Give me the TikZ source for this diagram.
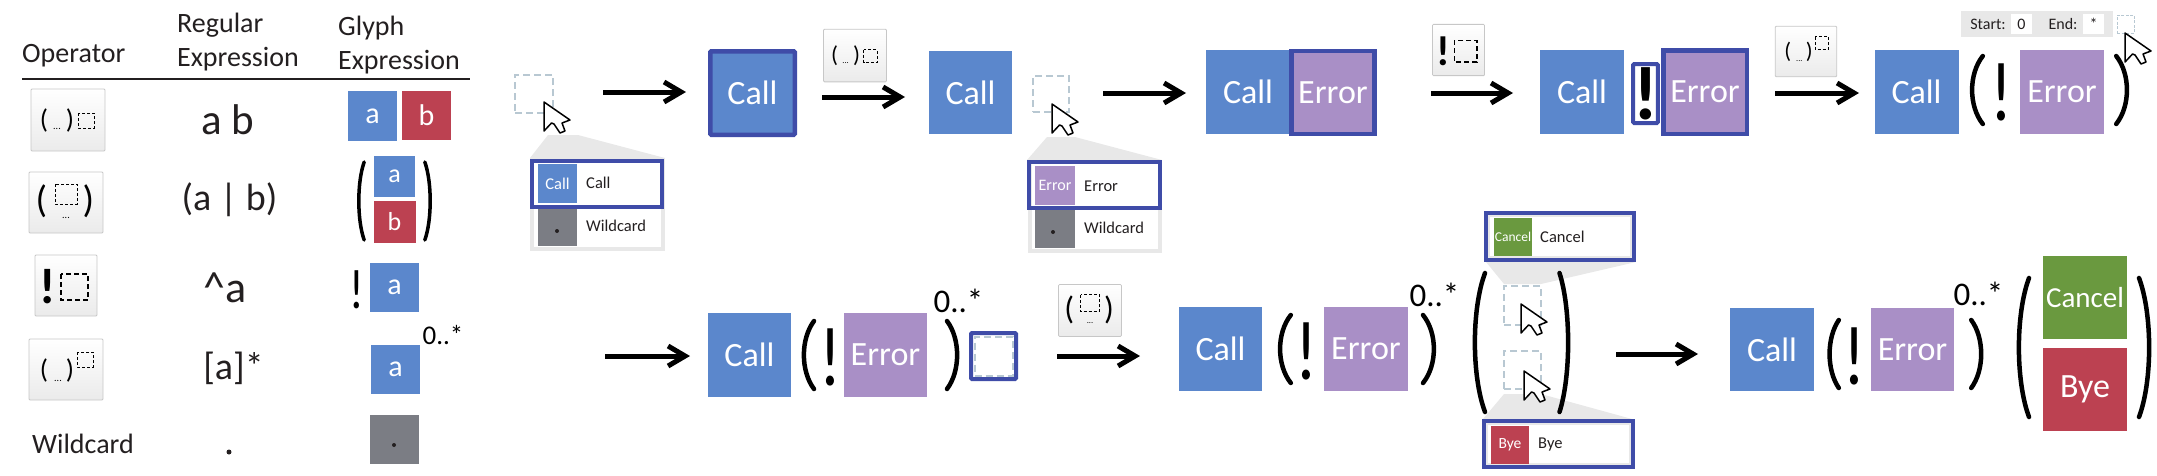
\documentclass[tikz,border=0pt]{standalone}
\usepackage{fontspec}
\setmainfont{Carlito}
\definecolor{Bluefill}{RGB}{91,135,204}
\definecolor{Redfill}{RGB}{188,65,81}
\definecolor{Purplefill}{RGB}{169,143,198}
\definecolor{Grayfill}{RGB}{123,125,132}
\definecolor{Greenfill}{RGB}{106,153,63}
\definecolor{Selblue}{RGB}{63,76,168}
\definecolor{Panelgray}{RGB}{232,232,232}
\definecolor{Dashgray}{RGB}{184,200,210}
\definecolor{Inkdark}{RGB}{35,31,32}
\tikzset{
  fs/.style={font=\fontsize{#1}{#1}\selectfont},
  tabtext/.style={text=Inkdark,inner sep=0pt,font=\fontsize{28}{34}\selectfont},
  glyph/.style={rectangle,inner sep=0pt,text=white},
  glyphbig/.style={glyph,minimum width=84,minimum height=84,fs=34},
  menuframe/.style={rectangle,draw=Panelgray,line width=4,fill=white,inner sep=0pt},
  selbox/.style={rectangle,draw=Selblue,line width=4,inner sep=0pt,rounded corners=1},
  dashbox/.style={rectangle,draw=Dashgray,line width=1.6,dash pattern=on 7 off 4,inner sep=0pt},
  menutext/.style={text=Inkdark,inner sep=0pt,anchor=west,fs=16.5},
  funnel/.style={fill=Panelgray},
  bang/.style={inner sep=0pt,text=black,xscale=.8,transform shape},
  bracket/.style={line width=4.5,line cap=round},
  flowarrow/.style={line width=5,-{Straight Barb[length=17,width=20,line width=5]}},
  btnbox/.style={rectangle,draw=black!22,line width=.8,rounded corners=1,top color=white,bottom color=black!8,inner sep=0pt},
  icondash/.style={draw=black,line width=1,dash pattern=on 3 off 2},
  seqbtn/.pic={
    \node[btnbox,minimum width=74,minimum height=62] (box) at (0,0) {};
    \node[inner sep=0pt,fs=27,transform shape] (lp) at (-24,0) {(};
    \node[inner sep=0pt,fs=27,transform shape] (rp) at (2,0) {)};
    \node[inner sep=0pt,fs=10,transform shape] (dots) at (-11,9) {...};
    \draw[icondash] (10,-7) rectangle (26,8);
  },
  altbtn/.pic={
    \node[btnbox,minimum width=74,minimum height=61] (box) at (0,0) {};
    \node[inner sep=0pt,fs=38,transform shape] (lp) at (-24.5,-1) {(};
    \node[inner sep=0pt,fs=38,transform shape] (rp) at (22.5,-1) {)};
    \node[inner sep=0pt,fs=10,transform shape] (dots) at (0,15) {...};
    \draw[icondash] (-11,-18.5) rectangle (11,1.5);
  },
  notbtn/.pic={
    \node[btnbox,minimum width=62,minimum height=61] (box) at (0,0) {};
    \node[inner sep=0pt,fs=50,transform shape,font=\fontsize{50}{50}\selectfont\bfseries] (ex) at (-18,1) {!};
    \draw[icondash,line width=1.4,dash pattern=on 5 off 3] (-5,-11.5) rectangle (22,14.5);
  },
  repbtn/.pic={
    \node[btnbox,minimum width=74,minimum height=61] (box) at (0,0) {};
    \node[inner sep=0pt,fs=27,transform shape] (lp) at (-22,1) {(};
    \node[inner sep=0pt,fs=27,transform shape] (rp) at (4,1) {)};
    \node[inner sep=0pt,fs=10,transform shape] (dots) at (-8,11) {...};
    \draw[icondash] (11,-17.5) rectangle (27,-2.5);
  },
  cursorpic/.pic={
    \draw[fill=white,line width=1.5,line join=round] (0,0) -- (26,18) -- (18,21) -- (21,29) -- (16,31) -- (10,22) -- (7.5,21) -- (0,29) -- cycle;
  },
}
\usetikzlibrary{arrows.meta}

\begin{document}
\begin{tikzpicture}[x=1pt,y=-1pt,line cap=butt]
\path[use as bounding box] (0,0) rectangle (2157,475);
% table
\node[tabtext,anchor=base west] (hop) at (22,62) {Operator};
\node[tabtext,anchor=base west,align=left] (hre) at (177,66) {Regular\\Expression};
\node[tabtext,anchor=base west,align=left] (hge) at (338,69) {Glyph\\Expression};
\coordinate (rulea) at (22,79);
\coordinate (ruleb) at (470,79);
\draw[line width=1.8,draw=Inkdark] (rulea) -- (ruleb);
\pic (opseq) at (68,120) {seqbtn};
\pic (opalt) at (66,202.5) {altbtn};
\pic (opnot) at (66,285.5) {notbtn};
\pic (oprep) at (66,369.5) {repbtn};
\node[tabtext,anchor=base west] (opwild) at (32,453) {Wildcard};
\node[inner sep=0pt,text=Inkdark,fs=43] (reseq) at (227.5,120) {a b};
\node[inner sep=0pt,text=Inkdark,fs=38] (realt) at (229.5,200) {(a | b)};
\node[inner sep=0pt,text=Inkdark,fs=44] (renot) at (225,288) {\char94 a};
\node[inner sep=0pt,text=Inkdark,fs=38] (rerep) at (233.5,368) {[a]*};
\node[circle,fill=Inkdark,inner sep=0pt,minimum size=5] (rewild) at (229,452) {};
\node[glyph,fill=Bluefill,minimum width=49,minimum height=50,fs=30] (ga) at (372.5,116) {a};
\node[glyph,fill=Redfill,minimum size=49,fs=30] (gb) at (426.5,115.5) {b};
\node[glyph,fill=Bluefill,minimum size=41,fs=26] (gaa) at (394.5,176.5) {a};
\node[glyph,fill=Redfill,minimum size=42,fs=26] (gbb) at (394.5,222) {b};
\draw[bracket,line width=3.5] (364.2,162) .. controls (357,182) and (357,220) .. (364.2,240);
\draw[bracket,line width=3.5] (424.8,162) .. controls (432,182) and (432,220) .. (424.8,240);
\node[bang,fs=56] (gex) at (357,290) {!};
\node[glyph,fill=Bluefill,minimum size=49,fs=30] (gan) at (394.5,287.5) {a};
\node[glyph,fill=Bluefill,minimum size=49,fs=30] (gar) at (395.5,369.5) {a};
\node[inner sep=0pt,fs=27] (grep) at (443,335) {0..*};
\node[glyph,fill=Grayfill,minimum size=49] (gw) at (394.5,439.5) {};
\node[circle,fill=Inkdark,inner sep=0pt,minimum size=4] (gwd) at (394,445) {};
% first row
\fill[funnel] (548,135) -- (578,135) -- (665,158) -- (530,158) -- cycle;
\node[dashbox,minimum width=38,minimum height=38] (slota) at (534,94) {};
\pic at (544,102) {cursorpic};
\node[menuframe,minimum width=131,minimum height=89] (menua) at (597.5,204.5) {};
\node[selbox,rounded corners=0,minimum width=130,minimum height=46] (sela) at (597,184) {};
\node[glyph,fill=Bluefill,minimum width=39,minimum height=39,fs=16.5] (swa) at (557.5,183.5) {Call};
\node[menutext] (lba) at (586,183) {Call};
\node[glyph,fill=Grayfill,minimum width=39,minimum height=37] (swb) at (557.5,227.5) {};
\node[circle,fill=Inkdark,inner sep=0pt,minimum size=4] (dta) at (557,231) {};
\node[menutext] (lbb) at (586,226) {Wildcard};
\coordinate (arra) at (603,92);
\coordinate (arrb) at (686,92);
\draw[flowarrow] (arra) -- (arrb);
\node[glyphbig,fill=Bluefill,draw=Selblue,line width=4.5,rounded corners=1,minimum width=84.5,minimum height=83.5] (calla) at (752.5,93) {Call};
\pic[scale=.85,transform shape] at (855,55.5) {seqbtn};
\coordinate (arrc) at (822,97);
\coordinate (arrd) at (905,97);
\draw[flowarrow] (arrc) -- (arrd);
\node[glyphbig,fill=Bluefill,minimum width=83,minimum height=83] (callb) at (970.5,92.5) {Call};
\fill[funnel] (1047,137) -- (1075,137) -- (1162,160) -- (1027,160) -- cycle;
\node[dashbox,minimum width=36,minimum height=36] (slotb) at (1051,94) {};
\pic at (1052,104) {cursorpic};
\node[menuframe,minimum width=130,minimum height=89] (menub) at (1094.5,206.5) {};
\node[selbox,rounded corners=0,minimum width=131,minimum height=46] (selb) at (1094.5,185) {};
\node[glyph,fill=Purplefill,minimum width=40,minimum height=39,fs=16] (swc) at (1055,185.5) {Error};
\node[menutext] (lbc) at (1084,186) {Error};
\node[glyph,fill=Grayfill,minimum width=40,minimum height=38] (swd) at (1055,229) {};
\node[circle,fill=Inkdark,inner sep=0pt,minimum size=4] (dtb) at (1053,232) {};
\node[menutext] (lbd) at (1084,228) {Wildcard};
\coordinate (arre) at (1103,93);
\coordinate (arrf) at (1186,93);
\draw[flowarrow] (arre) -- (arrf);
\node[glyphbig,fill=Bluefill] (callc) at (1248,92) {Call};
\node[glyphbig,fill=Purplefill,draw=Selblue,line width=4.5,minimum width=83,minimum height=83] (erra) at (1333,92.5) {Error};
\pic[scale=.84,transform shape] at (1458.5,50) {notbtn};
\coordinate (arrg) at (1431,93);
\coordinate (arrh) at (1513,93);
\draw[flowarrow] (arrg) -- (arrh);
\node[glyphbig,fill=Bluefill] (calld) at (1582,92) {Call};
\node[selbox,fill=white,minimum width=19,minimum height=59,font=\fontsize{76}{76}\selectfont\bfseries] (exa) at (1645.5,93.5) {!};
\node[glyphbig,fill=Purplefill,draw=Selblue,line width=4.5,minimum width=83.5,minimum height=83.5] (errb) at (1705,92) {Error};
\pic[scale=.83,transform shape] at (1806,51.5) {repbtn};
\coordinate (arri) at (1775,93);
\coordinate (arrj) at (1859,93);
\draw[flowarrow] (arri) -- (arrj);
\node[glyphbig,fill=Bluefill] (calle) at (1916.5,92) {Call};
\draw[bracket] (1982.8,56) .. controls (1968.5,74) and (1968.5,106) .. (1982.8,124);
\node[bang,fs=84] (exb) at (2001,92) {!};
\node[glyphbig,fill=Purplefill] (errc) at (2062,92) {Error};
\draw[bracket] (2116.2,56) .. controls (2130.5,74) and (2130.5,106) .. (2116.2,124);
\node[rectangle,fill=Panelgray,inner sep=0pt,minimum width=152,minimum height=26] (range) at (2037,24) {};
\node[inner sep=0pt,text=Inkdark,fs=16] (stl) at (1988,24.5) {Start:};
\node[rectangle,fill=white,inner sep=0pt,minimum width=21,minimum height=20,text=Inkdark,fs=16] (stv) at (2021.5,24) {0};
\node[inner sep=0pt,text=Inkdark,fs=16] (enl) at (2063,24.5) {End:};
\node[rectangle,fill=white,inner sep=0pt,minimum width=21,minimum height=20,text=Inkdark,fs=16] (env) at (2093.5,24) {*};
\node[dashbox,line width=.9,dash pattern=on 3 off 1.5,minimum width=17,minimum height=18] (slotc) at (2125.5,24) {};
\pic at (2125,33) {cursorpic};
% second row
\coordinate (arrk) at (605,356);
\coordinate (arrl) at (690,356);
\draw[flowarrow] (arrk) -- (arrl);
\node[glyphbig,fill=Bluefill,minimum width=83] (callf) at (749.5,355) {Call};
\draw[bracket] (814,321) .. controls (800.5,339) and (800.5,371) .. (814,389);
\node[bang,fs=84] (exc) at (830,357.5) {!};
\node[glyphbig,fill=Purplefill,minimum width=83] (errd) at (885.5,355) {Error};
\node[inner sep=0pt,fs=33] (repa) at (958.5,301) {0..*};
\draw[bracket] (947,321) .. controls (960.5,339) and (960.5,371) .. (947,389);
\node[selbox,fill=white,minimum width=45,minimum height=46] (slotd) at (993.5,356) {};
\node[dashbox,line width=2,minimum width=38,minimum height=39] (slotdd) at (993.5,356) {};
\pic[scale=.85,transform shape] at (1090,310.5) {altbtn};
\coordinate (arrm) at (1057,356);
\coordinate (arrn) at (1140,356);
\draw[flowarrow] (arrm) -- (arrn);
\node[glyphbig,fill=Bluefill,minimum width=83] (callg) at (1220.5,349) {Call};
\draw[bracket] (1290.8,315) .. controls (1276.5,333) and (1276.5,365) .. (1290.8,383);
\node[bang,fs=84] (exd) at (1306,351) {!};
\node[glyphbig,fill=Purplefill] (erre) at (1366,349) {Error};
\node[inner sep=0pt,fs=33] (repb) at (1434.5,295) {0..*};
\draw[bracket] (1423,315) .. controls (1437.5,333) and (1437.5,365) .. (1423,383);
\fill[funnel] (1486,262) -- (1636,262) -- (1541,284) -- (1504,284) -- cycle;
\fill[funnel] (1504,394) -- (1541,394) -- (1632,419) -- (1483,419) -- cycle;
\draw[bracket] (1485,273) .. controls (1471.5,309) and (1471.5,376) .. (1485,412);
\draw[bracket] (1559.5,273) .. controls (1571,309) and (1571,376) .. (1559.5,412);
\node[dashbox,minimum width=37,minimum height=39] (slote) at (1522.5,305.5) {};
\pic at (1521,304) {cursorpic};
\node[dashbox,minimum width=37,minimum height=38] (slotf) at (1522.5,370) {};
\pic at (1524,371) {cursorpic};
\node[selbox,rounded corners=0,fill=white,minimum width=148,minimum height=47] (selc) at (1560,236.5) {};
\node[rectangle,draw=Panelgray,line width=2,inner sep=0pt,minimum width=142,minimum height=41] (framec) at (1560,236.5) {};
\node[glyph,fill=Greenfill,minimum width=38,minimum height=38,fs=13.5] (swe) at (1513,237) {Cancel};
\node[menutext] (lbe) at (1540,237) {Cancel};
\node[selbox,rounded corners=0,fill=white,minimum width=149,minimum height=46] (seld) at (1558.5,444) {};
\node[rectangle,draw=Panelgray,line width=2,inner sep=0pt,minimum width=143,minimum height=40] (framed) at (1558.5,444) {};
\node[glyph,fill=Redfill,minimum width=38,minimum height=38,fs=15.5] (swf) at (1510,445) {Bye};
\node[menutext] (lbf) at (1538,445) {Bye};
\coordinate (arro) at (1616,354);
\coordinate (arrp) at (1698,354);
\draw[flowarrow] (arro) -- (arrp);
\node[glyphbig,fill=Bluefill,minimum height=83] (callh) at (1772,349.5) {Call};
\draw[bracket] (1838.8,320) .. controls (1826.5,338) and (1826.5,370) .. (1838.8,388);
\node[bang,fs=84] (exe) at (1854,356.5) {!};
\node[glyphbig,fill=Purplefill,minimum width=83,minimum height=83] (errf) at (1912.5,349.5) {Error};
\node[inner sep=0pt,fs=33] (repc) at (1978.5,294) {0..*};
\draw[bracket] (1971.2,320) .. controls (1984.5,338) and (1984.5,370) .. (1971.2,388);
\draw[bracket] (2029,278) .. controls (2015.5,314) and (2015.5,381) .. (2029,417);
\node[glyphbig,fill=Greenfill,minimum height=83,fs=29] (cana) at (2085,297.5) {Cancel};
\node[glyphbig,fill=Redfill,minimum height=83] (byea) at (2085,389.5) {Bye};
\draw[bracket] (2139,278) .. controls (2152.5,314) and (2152.5,381) .. (2139,417);
\end{tikzpicture}
\end{document}
